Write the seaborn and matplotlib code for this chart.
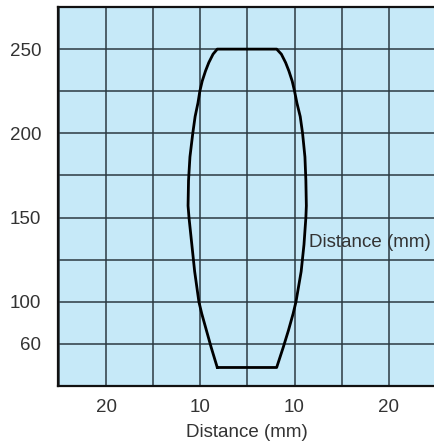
import pandas as pd
import matplotlib.pyplot as plt
import seaborn as sns

# Beam outline (y = sensing distance, x = offset in mm)
shape_y = [61, 73, 83, 93, 100, 118, 134, 150, 157, 172, 186, 200, 210, 218, 225, 231, 237, 242, 247, 250]
left_x = [-3.2, -3.85, -4.35, -4.85, -5.15, -5.6, -5.9, -6.2, -6.3, -6.25, -6.1, -5.8, -5.55, -5.25,
          -5.05, -4.8, -4.45, -4.1, -3.65, -3.2]
right_x = [3.1, 3.8, 4.35, 4.85, 5.15, 5.7, 6.0, 6.2, 6.25, 6.2, 6.1, 5.85, 5.6, 5.25,
           5.0, 4.75, 4.4, 4.05, 3.6, 3.1]

x_tick_pos = [-15, -5, 5, 15]
x_tick_labels = ['20', '10', '10', '20']
y_tick_pos = [75, 100, 150, 200, 250]
y_tick_labels = ['60', '100', '150', '200', '250']

# closed path: up the left side, across the top, down the right side, back along the bottom
path_x = left_x + right_x[::-1] + [left_x[0]]
path_y = shape_y + shape_y[::-1] + [shape_y[0]]
df = pd.DataFrame({'x': path_x, 'y': path_y})

sns.set_style('white', {'axes.facecolor': '#c6e9f8', 'axes.edgecolor': '#111111'})
plt.rcParams['font.family'] = ['Liberation Sans', 'DejaVu Sans']

fig = plt.figure(figsize=(4.35, 4.46), dpi=100)
ax = fig.add_axes([0.1333, 0.1345, 0.8667, 0.8498])

sns.lineplot(data=df, x='x', y='y', sort=False, estimator=None, color='black', lw=2.0, ax=ax)

ax.set_xlim(-20.1, 19.9)
ax.set_ylim(50, 275)

# labelled ticks are major, the full grid sits on minor ticks
ax.set_xticks(x_tick_pos)
ax.set_xticklabels(x_tick_labels)
ax.set_yticks(y_tick_pos)
ax.set_yticklabels(y_tick_labels)
ax.set_xticks(range(-20, 20, 5), minor=True)
ax.set_yticks(range(50, 276, 25), minor=True)
ax.grid(True, which='both', color='#2b3a42', lw=1.1)
ax.set_axisbelow(True)

ax.tick_params(which='both', length=0, labelsize=13.5, labelcolor='#333333')
ax.tick_params(axis='x', pad=9)
ax.tick_params(axis='y', pad=12)

ax.set_xlabel('Distance (mm)', fontsize=13.5, color='#333333', labelpad=6)
ax.set_ylabel('')
ax.text(6.5, 135, 'Distance (mm)', ha='left', va='center', fontsize=13.5, color='#333333')

for side in ['left', 'bottom', 'top']:
    ax.spines[side].set_linewidth(1.6)
ax.spines['right'].set_visible(False)

fig.savefig('out.png', dpi=100)
